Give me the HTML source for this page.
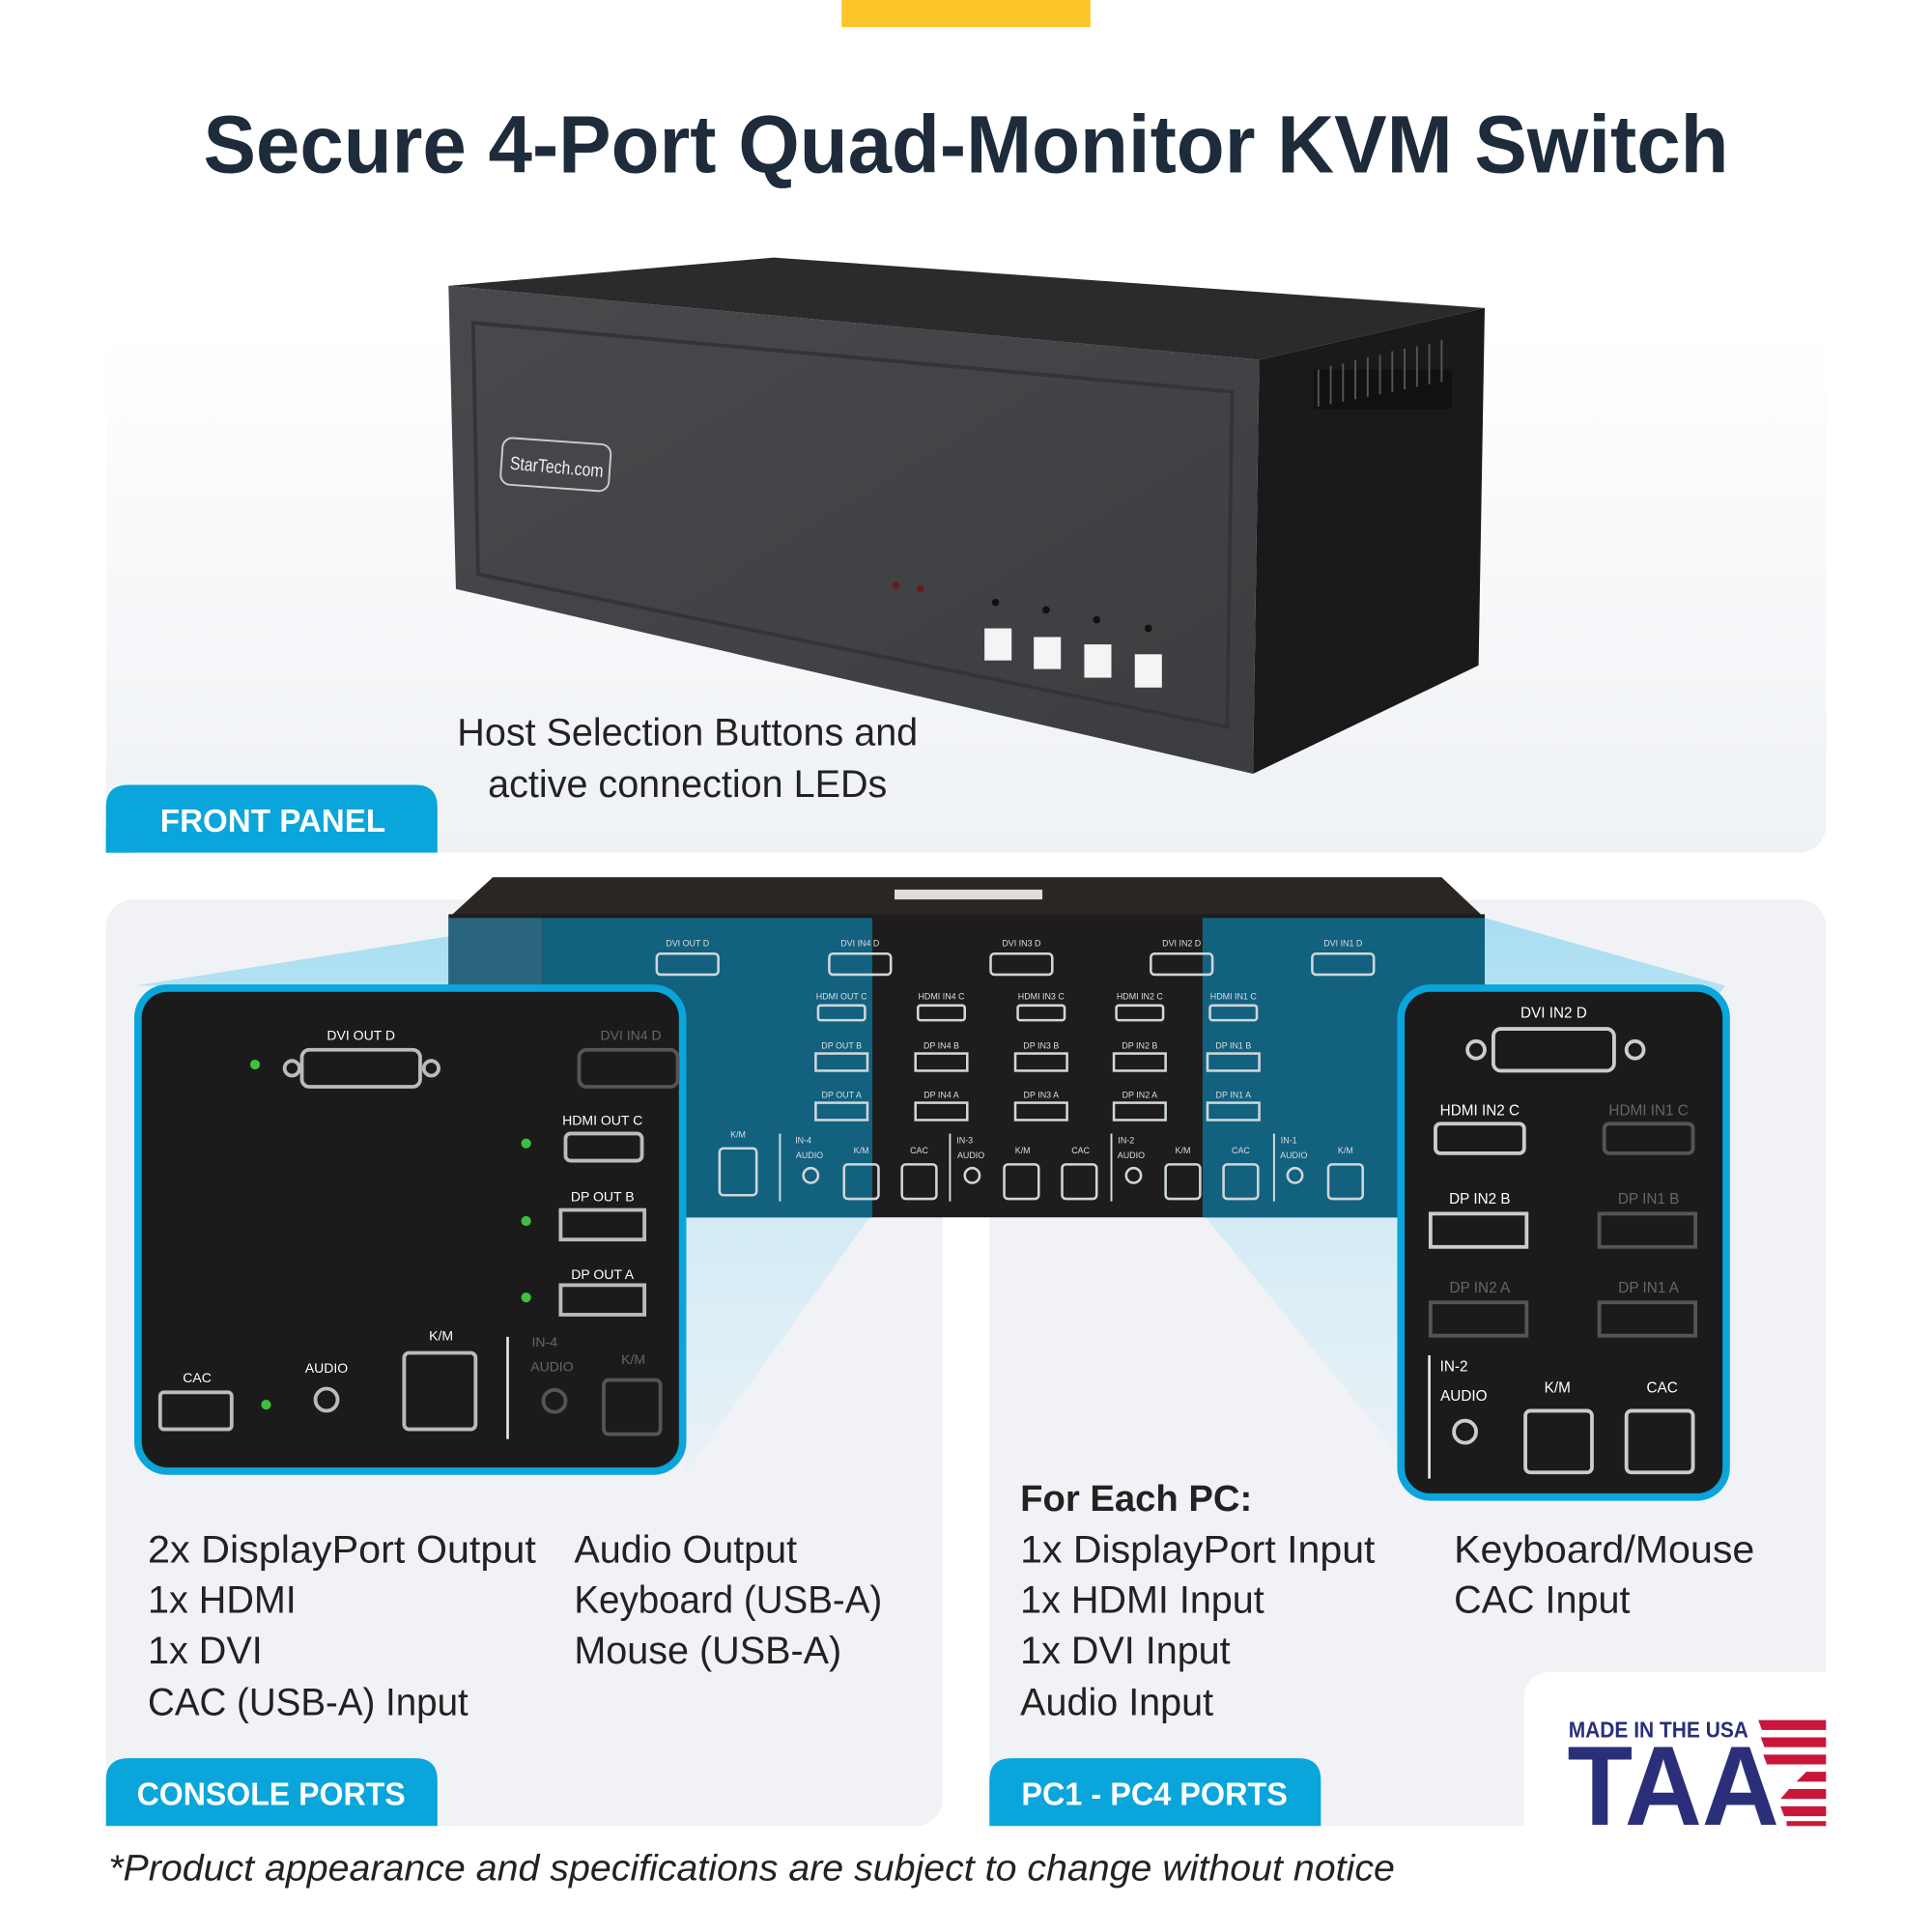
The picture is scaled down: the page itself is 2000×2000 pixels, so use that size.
<!DOCTYPE html>
<html><head><meta charset="utf-8"><style>
html,body{margin:0;padding:0;background:#fff;width:2000px;height:2000px;overflow:hidden}
svg{display:block}
text{font-family:"Liberation Sans",sans-serif}
</style></head><body>
<svg width="2000" height="2000" viewBox="0 0 1568 1568" xmlns="http://www.w3.org/2000/svg">
<defs>
<linearGradient id="pg" x1="0" y1="0" x2="0" y2="1"><stop offset="0" stop-color="#ffffff"/><stop offset="1" stop-color="#eef1f5"/></linearGradient>
<linearGradient id="beamL" x1="0" y1="0" x2="0" y2="1"><stop offset="0" stop-color="#9fdcf0" stop-opacity="0.9"/><stop offset="1" stop-color="#d6eef8" stop-opacity="0.3"/></linearGradient>
<linearGradient id="front" x1="0" y1="0" x2="1" y2="1"><stop offset="0" stop-color="#48494c"/><stop offset="1" stop-color="#3c3d40"/></linearGradient>
</defs>
<rect x="683" y="0" width="202" height="22" fill="#fcc62a"/>
<text x="165" y="140" textLength="1238" lengthAdjust="spacingAndGlyphs" font-size="66" font-weight="bold" fill="#1e2b3a">Secure 4-Port Quad-Monitor KVM Switch</text>

<rect x="86" y="268" width="1396" height="424" rx="22" fill="url(#pg)"/>
<polygon points="364,232 628,209 1205,250 1022,292" fill="#2b2b2c"/>
<polygon points="1022,292 1205,250 1200,540 1017,628" fill="#1a1a1b"/>
<polygon points="364,232 1022,292 1017,628 370,478" fill="url(#front)"/>
<polygon points="384,262 1000,318 996,590 388,466" fill="none" stroke="#333437" stroke-width="3"/>
<rect x="1066" y="300" width="112" height="32" fill="#111"/>
<g stroke="#555" stroke-width="1.5"><line x1="1070" y1="300" x2="1070" y2="330"/><line x1="1080" y1="297" x2="1080" y2="328"/><line x1="1090" y1="295" x2="1090" y2="326"/><line x1="1100" y1="292" x2="1100" y2="324"/><line x1="1110" y1="290" x2="1110" y2="322"/><line x1="1120" y1="288" x2="1120" y2="320"/><line x1="1130" y1="285" x2="1130" y2="318"/><line x1="1140" y1="283" x2="1140" y2="316"/><line x1="1150" y1="281" x2="1150" y2="314"/><line x1="1160" y1="279" x2="1160" y2="312"/><line x1="1170" y1="276" x2="1170" y2="310"/></g>
<rect x="407" y="358" width="88" height="38" rx="8" fill="none" stroke="#ccc" stroke-width="1.5" transform="rotate(4 451 377)"/>
<text x="414" y="384" font-size="15" fill="#eee" textLength="76" lengthAdjust="spacingAndGlyphs" transform="rotate(5 451 377)">StarTech.com</text>
<circle cx="727" cy="475" r="3" fill="#6a1a1a"/><circle cx="747" cy="478" r="3" fill="#6a1a1a"/>
<g fill="#111"><circle cx="808" cy="489" r="3"/><circle cx="849" cy="495" r="3"/><circle cx="890" cy="503" r="3"/><circle cx="932" cy="510" r="3"/></g>
<g fill="#f4f4f4"><rect x="799" y="510" width="22" height="26"/><rect x="839" y="517" width="22" height="26"/><rect x="880" y="523" width="22" height="27"/><rect x="921" y="531" width="22" height="27"/></g>
<text x="558" y="605" text-anchor="middle" font-size="31" fill="#222">Host Selection Buttons and</text>
<text x="558" y="647" text-anchor="middle" font-size="31" fill="#222">active connection LEDs</text>
<path d="M86,692 L86,655 Q86,637 104,637 L337,637 Q355,637 355,655 L355,692 Z" fill="#0aa5db"/>
<rect x="86" y="672" width="20" height="20" fill="#0aa5db"/>
<text x="130" y="675" font-size="26" font-weight="bold" fill="#fff">FRONT PANEL</text>

<rect x="86" y="730" width="679" height="752" rx="22" fill="#f0f2f6"/>
<rect x="803" y="730" width="679" height="752" rx="22" fill="#f0f2f6"/>
<rect x="720" y="730" width="130" height="30" fill="#f0f2f6"/>
<path d="M1237,1482 L1237,1380 Q1237,1357 1260,1357 L1482,1357 L1482,1482 Z" fill="#fff"/>
<polygon points="364,760 440,745 708,985 556,1196 556,800 110,800" fill="url(#beamL)"/>
<polygon points="976,985 1205,745 1400,800 1135,1180" fill="url(#beamL)"/>
<polygon points="400,712 1170,712 1205,745 364,745" fill="#2a2624"/>
<rect x="364" y="742" width="841" height="246" fill="#1e1c1c"/>
<rect x="726" y="722" width="120" height="8" fill="#ddd"/>
<rect x="364" y="745" width="76" height="243" fill="#2b6e8c" opacity="0.9"/>
<rect x="440" y="745" width="268" height="243" fill="#12617f"/>
<rect x="976" y="745" width="229" height="243" fill="#12617f"/>
<g font-size="7" fill="#ddd" text-anchor="middle">
<text x="558" y="768">DVI OUT D</text><text x="698" y="768">DVI IN4 D</text><text x="829" y="768">DVI IN3 D</text><text x="959" y="768">DVI IN2 D</text><text x="1090" y="768">DVI IN1 D</text>
<text x="683" y="811">HDMI OUT C</text><text x="764" y="811">HDMI IN4 C</text><text x="845" y="811">HDMI IN3 C</text><text x="925" y="811">HDMI IN2 C</text><text x="1001" y="811">HDMI IN1 C</text>
<text x="683" y="851">DP OUT B</text><text x="764" y="851">DP IN4 B</text><text x="845" y="851">DP IN3 B</text><text x="925" y="851">DP IN2 B</text><text x="1001" y="851">DP IN1 B</text>
<text x="683" y="891">DP OUT A</text><text x="764" y="891">DP IN4 A</text><text x="845" y="891">DP IN3 A</text><text x="925" y="891">DP IN2 A</text><text x="1001" y="891">DP IN1 A</text>
<text x="599" y="923">K/M</text><text x="652" y="928">IN-4</text><text x="657" y="940">AUDIO</text><text x="699" y="936">K/M</text><text x="746" y="936">CAC</text><text x="783" y="928">IN-3</text><text x="788" y="940">AUDIO</text><text x="830" y="936">K/M</text><text x="877" y="936">CAC</text><text x="914" y="928">IN-2</text><text x="918" y="940">AUDIO</text><text x="960" y="936">K/M</text><text x="1007" y="936">CAC</text><text x="1046" y="928">IN-1</text><text x="1050" y="940">AUDIO</text><text x="1092" y="936">K/M</text>
</g>
<g fill="none" stroke="#cfd6da" stroke-width="2">
<rect x="533" y="774" width="50" height="17" rx="3"/><rect x="673" y="774" width="50" height="17" rx="3"/><rect x="804" y="774" width="50" height="17" rx="3"/><rect x="934" y="774" width="50" height="17" rx="3"/><rect x="1065" y="774" width="50" height="17" rx="3"/>
<rect x="664" y="816" width="38" height="12" rx="2"/><rect x="745" y="816" width="38" height="12" rx="2"/><rect x="826" y="816" width="38" height="12" rx="2"/><rect x="906" y="816" width="38" height="12" rx="2"/><rect x="982" y="816" width="38" height="12" rx="2"/>
<rect x="662" y="855" width="42" height="14"/><rect x="743" y="855" width="42" height="14"/><rect x="824" y="855" width="42" height="14"/><rect x="904" y="855" width="42" height="14"/><rect x="980" y="855" width="42" height="14"/>
<rect x="662" y="895" width="42" height="14"/><rect x="743" y="895" width="42" height="14"/><rect x="824" y="895" width="42" height="14"/><rect x="904" y="895" width="42" height="14"/><rect x="980" y="895" width="42" height="14"/>
<rect x="584" y="932" width="30" height="38" rx="3"/>
<rect x="685" y="945" width="28" height="28" rx="3"/><rect x="732" y="945" width="28" height="28" rx="3"/><rect x="815" y="945" width="28" height="28" rx="3"/><rect x="862" y="945" width="28" height="28" rx="3"/><rect x="946" y="945" width="28" height="28" rx="3"/><rect x="993" y="945" width="28" height="28" rx="3"/><rect x="1078" y="945" width="28" height="28" rx="3"/>
<circle cx="658" cy="954" r="6"/><circle cx="789" cy="954" r="6"/><circle cx="920" cy="954" r="6"/><circle cx="1051" cy="954" r="6"/>
</g>
<g stroke="#ddd" stroke-width="1.5"><line x1="633" y1="920" x2="633" y2="975"/><line x1="771" y1="920" x2="771" y2="975"/><line x1="902" y1="920" x2="902" y2="975"/><line x1="1034" y1="920" x2="1034" y2="975"/></g>

<rect x="112" y="802" width="442" height="392" rx="24" fill="#1c1b1b" stroke="#0aa5db" stroke-width="6"/>
<g font-size="11" fill="#fff" text-anchor="middle">
<text x="293" y="844">DVI OUT D</text><text x="489" y="913">HDMI OUT C</text><text x="489" y="975">DP OUT B</text><text x="489" y="1038">DP OUT A</text>
<text x="358" y="1088">K/M</text><text x="160" y="1122">CAC</text><text x="265" y="1114">AUDIO</text>
</g>
<g font-size="11" fill="#666" text-anchor="middle"><text x="512" y="844">DVI IN4 D</text><text x="442" y="1093">IN-4</text><text x="448" y="1113">AUDIO</text><text x="514" y="1107">K/M</text></g>
<g fill="none" stroke="#bbb" stroke-width="3">
<rect x="245" y="852" width="96" height="30" rx="6"/><circle cx="237" cy="867" r="6"/><circle cx="350" cy="867" r="6"/>
<rect x="459" y="920" width="62" height="22" rx="4"/><rect x="455" y="982" width="68" height="24"/><rect x="455" y="1043" width="68" height="24"/>
<rect x="328" y="1098" width="58" height="62" rx="4"/><rect x="130" y="1130" width="58" height="30" rx="3"/><circle cx="265" cy="1136" r="9"/>
</g>
<g fill="none" stroke="#555" stroke-width="3"><rect x="470" y="852" width="80" height="30" rx="6"/><rect x="490" y="1120" width="46" height="44" rx="4"/><circle cx="450" cy="1137" r="9"/></g>
<line x1="412" y1="1085" x2="412" y2="1168" stroke="#eee" stroke-width="2"/>
<g fill="#3fbf3f"><circle cx="207" cy="864" r="4"/><circle cx="427" cy="928" r="4"/><circle cx="427" cy="991" r="4"/><circle cx="427" cy="1053" r="4"/><circle cx="216" cy="1140" r="4"/></g>

<rect x="1137" y="802" width="264" height="413" rx="24" fill="#1c1b1b" stroke="#0aa5db" stroke-width="6"/>
<g font-size="12" fill="#fff" text-anchor="middle"><text x="1261" y="826">DVI IN2 D</text><text x="1201" y="905">HDMI IN2 C</text><text x="1201" y="977">DP IN2 B</text><text x="1180" y="1113">IN-2</text><text x="1188" y="1137">AUDIO</text><text x="1264" y="1130">K/M</text><text x="1349" y="1130">CAC</text></g>
<g font-size="12" fill="#666" text-anchor="middle"><text x="1338" y="905">HDMI IN1 C</text><text x="1338" y="977">DP IN1 B</text><text x="1201" y="1049">DP IN2 A</text><text x="1338" y="1049">DP IN1 A</text></g>
<g fill="none" stroke="#ccc" stroke-width="3"><rect x="1212" y="835" width="98" height="34" rx="6"/><circle cx="1198" cy="852" r="7"/><circle cx="1327" cy="852" r="7"/><rect x="1165" y="912" width="72" height="24" rx="4"/><rect x="1161" y="985" width="78" height="27"/><rect x="1238" y="1145" width="54" height="50" rx="4"/><rect x="1320" y="1145" width="54" height="50" rx="4"/><circle cx="1189" cy="1162" r="9"/></g>
<g fill="none" stroke="#555" stroke-width="3"><rect x="1302" y="912" width="72" height="24" rx="4"/><rect x="1298" y="985" width="78" height="27"/><rect x="1161" y="1057" width="78" height="27"/><rect x="1298" y="1057" width="78" height="27"/></g>
<line x1="1160" y1="1100" x2="1160" y2="1200" stroke="#eee" stroke-width="2"/>

<g font-size="31" fill="#222">
<text x="120" y="1268" textLength="315" lengthAdjust="spacingAndGlyphs">2x DisplayPort Output</text><text x="120" y="1309">1x HDMI</text><text x="120" y="1350">1x DVI</text><text x="120" y="1392" textLength="260" lengthAdjust="spacingAndGlyphs">CAC (USB-A) Input</text>
<text x="466" y="1268">Audio Output</text><text x="466" y="1309" textLength="250" lengthAdjust="spacingAndGlyphs">Keyboard (USB-A)</text><text x="466" y="1350">Mouse (USB-A)</text>
<text x="828" y="1226" font-weight="bold" font-size="30">For Each PC:</text>
<text x="828" y="1268" textLength="288" lengthAdjust="spacingAndGlyphs">1x DisplayPort Input</text><text x="828" y="1309">1x HDMI Input</text><text x="828" y="1350">1x DVI Input</text><text x="828" y="1392">Audio Input</text>
<text x="1180" y="1268" textLength="244" lengthAdjust="spacingAndGlyphs">Keyboard/Mouse</text><text x="1180" y="1309">CAC Input</text>
</g>
<path d="M86,1482 L86,1445 Q86,1427 104,1427 L337,1427 Q355,1427 355,1445 L355,1482 Z" fill="#0aa5db"/>
<text x="111" y="1465" font-size="26" font-weight="bold" fill="#fff" textLength="218" lengthAdjust="spacingAndGlyphs">CONSOLE PORTS</text>
<path d="M803,1482 L803,1445 Q803,1427 821,1427 L1054,1427 Q1072,1427 1072,1445 L1072,1482 Z" fill="#0aa5db"/>
<text x="829" y="1465" font-size="26" font-weight="bold" fill="#fff" textLength="216" lengthAdjust="spacingAndGlyphs">PC1 - PC4 PORTS</text>

<text x="1273" y="1410" font-size="18" font-weight="bold" fill="#2b2f7a" textLength="146" lengthAdjust="spacingAndGlyphs">MADE IN THE USA</text>
<text x="1272" y="1481" font-size="92" font-weight="bold" fill="#2b2f7a" textLength="172" lengthAdjust="spacingAndGlyphs">TAA</text>
<g fill="#c8173a"><polygon points="1427,1396 1482,1396 1482,1404 1430,1404"/><polygon points="1429,1410 1482,1410 1482,1418 1432,1418"/><polygon points="1431,1424 1482,1424 1482,1432 1434,1432"/><polygon points="1466,1438 1482,1438 1482,1446 1458,1446"/><polygon points="1452,1452 1482,1452 1482,1460 1445,1460"/><polygon points="1445,1466 1482,1466 1482,1474 1448,1474"/><rect x="1450" y="1478" width="32" height="4"/></g>

<text x="88" y="1526" font-size="30" font-style="italic" fill="#222" textLength="1044" lengthAdjust="spacingAndGlyphs">*Product appearance and specifications are subject to change without notice</text>
</svg>
</body></html>
